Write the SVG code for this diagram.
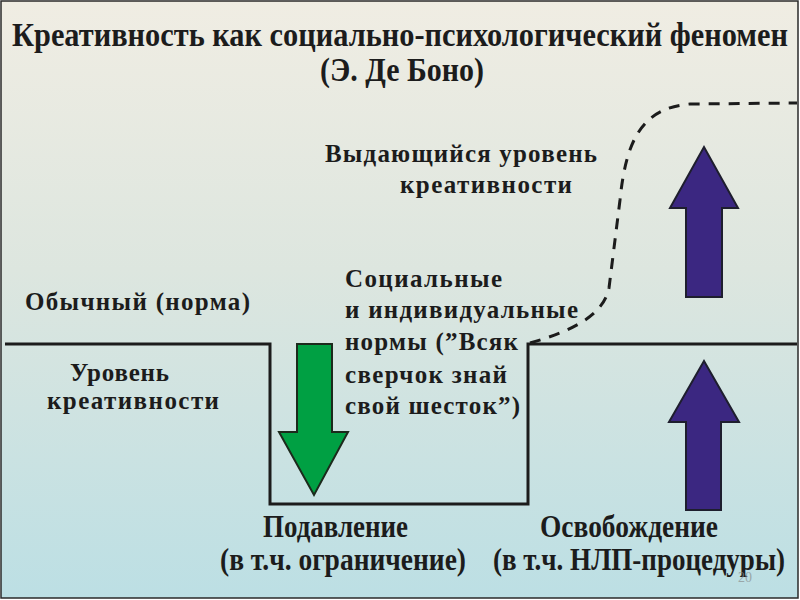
<svg xmlns="http://www.w3.org/2000/svg" width="800" height="600" viewBox="0 0 800 600">
<defs>
<linearGradient id="bg" x1="0" y1="0" x2="0" y2="1">
<stop offset="0" stop-color="#f0ede3"/>
<stop offset="0.45" stop-color="#dde6df"/>
<stop offset="1" stop-color="#bcdfe4"/>
</linearGradient>
<style>
.t{font-family:"Liberation Serif","Times New Roman",serif;font-weight:bold;fill:#1c1c1c;}
.b{font-size:25px;}
.c{font-size:31px;}
.h{font-size:33px;}
.line{fill:none;stroke:#1c1c1c;stroke-width:3;}
.dash{fill:none;stroke:#1c1c1c;stroke-width:3;stroke-dasharray:11 9;}
.green{fill:#00a043;stroke:#1c2a1c;stroke-width:2;}
.purple{fill:#3b2781;stroke:#1e1e2e;stroke-width:2;}
</style>
</defs>
<rect x="1" y="1" width="797" height="597" fill="url(#bg)" stroke="#2a2a2a" stroke-width="1.5"/>
<g id="title">
<text class="t h" x="12" y="46" textLength="776" lengthAdjust="spacingAndGlyphs">Креативность как социально-психологический феномен</text>
<text class="t h" x="320" y="81" textLength="164" lengthAdjust="spacingAndGlyphs">(Э. Де Боно)</text>
</g>
<g id="connectors">
<path class="line" d="M5,344 H270 V504 H528 V344 H797"/>
<path class="dash" d="M530,343 C565,333 603,318 609,288 L620,200 C626,140 642,108 690,104 L797,103"/>
</g>
<g id="arrow-down">
<path class="green" d="M297,344 H332 V432 H348 L314,495 L279,432 H297 Z"/>
</g>
<g id="arrow-up-top">
<path class="purple" d="M686,297 V208 H670 L704,147 L738,208 H722 V297 Z"/>
</g>
<g id="arrow-up-bottom">
<path class="purple" d="M686,510 V422 H669 L704,361 L739,422 H721 V510 Z"/>
</g>
<g id="label-outstanding">
<text class="t b" x="325" y="162" textLength="272" lengthAdjust="spacing">Выдающийся уровень</text>
<text class="t b" x="400" y="193" textLength="172" lengthAdjust="spacing">креативности</text>
</g>
<g id="label-norms">
<text class="t b" x="345" y="287" textLength="157" lengthAdjust="spacing">Социальные</text>
<text class="t b" x="345" y="318" textLength="233" lengthAdjust="spacing">и индивидуальные</text>
<text class="t b" x="345" y="350" textLength="173" lengthAdjust="spacing">нормы (”Всяк</text>
<text class="t b" x="345" y="383" textLength="162" lengthAdjust="spacing">сверчок знай</text>
<text class="t b" x="345" y="414" textLength="175" lengthAdjust="spacing">свой шесток”)</text>
</g>
<g id="label-ordinary">
<text class="t b" x="25" y="310" textLength="225" lengthAdjust="spacing">Обычный (норма)</text>
</g>
<g id="label-level">
<text class="t b" x="70" y="381" textLength="99" lengthAdjust="spacing">Уровень</text>
<text class="t b" x="47" y="409" textLength="172" lengthAdjust="spacing">креативности</text>
</g>
<g id="label-suppression">
<text class="t c" x="263" y="537" textLength="145" lengthAdjust="spacingAndGlyphs">Подавление</text>
<text class="t c" x="220" y="570" textLength="246" lengthAdjust="spacingAndGlyphs">(в т.ч. ограничение)</text>
</g>
<g id="label-liberation">
<text class="t c" x="540" y="537" textLength="178" lengthAdjust="spacingAndGlyphs">Освобождение</text>
<text class="t c" x="493" y="570" textLength="292" lengthAdjust="spacingAndGlyphs">(в т.ч. НЛП-процедуры)</text>
</g>
<text x="738" y="582" font-family="Liberation Serif, serif" font-size="14" fill="#8a8f8f" opacity="0.7">20</text>
</svg>
